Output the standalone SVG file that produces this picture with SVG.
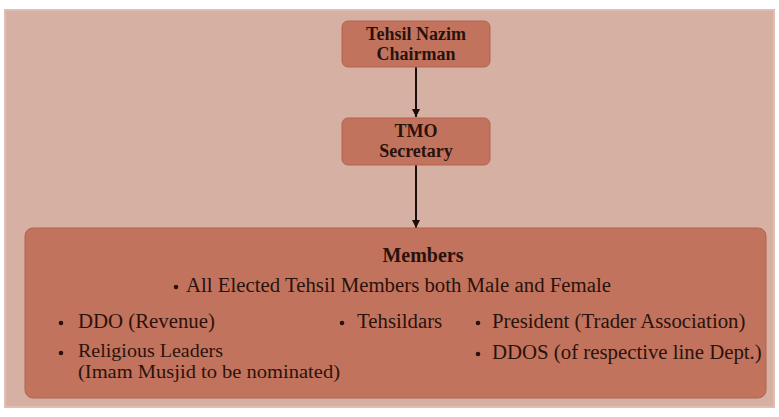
<svg xmlns="http://www.w3.org/2000/svg" width="779" height="417" viewBox="0 0 779 417">
<defs>
<marker id="ah" viewBox="0 0 10 10" refX="10" refY="5" markerWidth="8" markerHeight="8" markerUnits="userSpaceOnUse" orient="auto">
<path d="M0,0 L10,5 L0,10 z" fill="#1a0d0a"/>
</marker>
<style>
.box{fill:#c2735d;stroke:#b5634e;stroke-width:1}
.t{font-family:"Liberation Serif",serif;fill:#2a120c}
.tb{font-family:"Liberation Serif",serif;font-weight:bold;font-size:18px;fill:#2a120c;text-anchor:middle}
.li{font-size:20.8px}
.sm{font-size:18.5px}
.conn{stroke:#1a0d0a;stroke-width:2;fill:none}
.dot{fill:#2a120c}
</style>
</defs>
<rect x="0" y="0" width="779" height="417" fill="#ffffff"/>
<rect id="frame" x="5" y="10" width="769" height="397" fill="#d5b0a3" stroke="#e2bdb3" stroke-width="2"/>
<g id="connectors">
<line class="conn" x1="416" y1="67" x2="416" y2="117" marker-end="url(#ah)"/>
<line class="conn" x1="416" y1="165" x2="416" y2="228" marker-end="url(#ah)"/>
</g>
<g id="tehsil-nazim">
<rect class="box" x="342" y="21" width="148" height="46" rx="6"/>
<text class="tb" x="416" y="40">Tehsil Nazim</text>
<text class="tb" x="416" y="60">Chairman</text>
</g>
<g id="tmo">
<rect class="box" x="342" y="118" width="148" height="47" rx="6"/>
<text class="tb" x="416" y="137">TMO</text>
<text class="tb" x="416" y="157">Secretary</text>
</g>
<g id="members">
<rect class="box" x="25" y="228" width="741" height="170" rx="8"/>
<text class="t" x="423" y="262" font-size="20" text-anchor="middle" font-weight="600">Members</text>
<circle class="dot" cx="176" cy="287" r="2.3"/>
<text class="t li" x="186" y="292">All Elected Tehsil Members both Male and Female</text>
<circle class="dot" cx="61" cy="323" r="2.3"/>
<text class="t li" x="78" y="328">DDO (Revenue)</text>
<circle class="dot" cx="342" cy="323" r="2.3"/>
<text class="t li" x="357" y="328">Tehsildars</text>
<circle class="dot" cx="478" cy="323" r="2.3"/>
<text class="t li" x="492" y="328">President (Trader Association)</text>
<circle class="dot" cx="61" cy="353" r="2.3"/>
<text class="t sm" x="78" y="357" textLength="145" lengthAdjust="spacingAndGlyphs">Religious Leaders</text>
<text class="t sm" x="78" y="378" textLength="262" lengthAdjust="spacingAndGlyphs">(Imam Musjid to be nominated)</text>
<circle class="dot" cx="478" cy="354" r="2.3"/>
<text class="t li" x="492" y="359">DDOS (of respective line Dept.)</text>
</g>
</svg>
